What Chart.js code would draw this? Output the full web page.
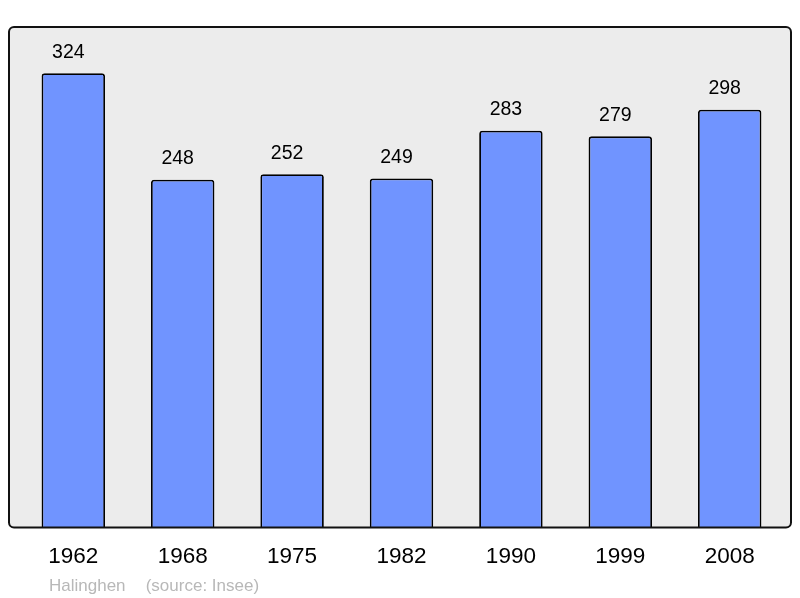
<!DOCTYPE html>
<html>
<head>
<meta charset="utf-8">
<script src="https://cdn.jsdelivr.net/npm/chart.js@4"></script>
<style>
html,body{margin:0;padding:0;background:#fff;}
#wrap{width:800px;height:598px;position:relative;}
</style>
</head>
<body>
<div id="wrap"><canvas id="c" width="800" height="598"></canvas></div>
<script>
const years = ["1962","1968","1975","1982","1990","1999","2008"];
const population = [324,248,252,249,283,279,298];
const placeName = "Halinghen";
const sourceText = "(source: Insee)";

const FONT = "'Liberation Sans', Arial, sans-serif";

const boxPlugin = {
  id: 'box',
  beforeDatasetsDraw(chart) {
    const {ctx, chartArea: a} = chart;
    ctx.save();
    ctx.beginPath();
    ctx.roundRect(a.left - 9.6, a.top, (a.right + 6.6) - (a.left - 9.6), a.bottom - a.top, 5);
    ctx.fillStyle = '#ececec';
    ctx.fill();
    ctx.restore();
  },
  afterDatasetsDraw(chart) {
    const {ctx, chartArea: a} = chart;
    ctx.save();
    // value labels
    const meta = chart.getDatasetMeta(0);
    ctx.font = "19.5px " + FONT;
    ctx.fillStyle = '#000';
    ctx.textAlign = 'center';
    ctx.textBaseline = 'middle';
    meta.data.forEach((bar, i) => {
      ctx.fillText(String(population[i]), bar.x - 5, bar.y - 21);
    });
    // frame
    ctx.beginPath();
    ctx.roundRect(a.left - 9.6, a.top, (a.right + 6.6) - (a.left - 9.6), a.bottom - a.top, 5);
    ctx.lineWidth = 2;
    ctx.strokeStyle = '#111';
    ctx.stroke();
    // source
    ctx.font = "17px " + FONT;
    ctx.fillStyle = '#b8b8b8';
    ctx.textAlign = 'left';
    ctx.textBaseline = 'alphabetic';
    ctx.fillText(placeName, 49, 590.5);
    ctx.fillText(sourceText, 145.7, 590.5);
    ctx.restore();
  }
};

new Chart(document.getElementById('c'), {
  type: 'bar',
  data: {
    labels: years,
    datasets: [{
      data: population,
      backgroundColor: '#7094ff',
      borderColor: '#000',
      borderWidth: 1.8,
      borderRadius: 3,
      borderSkipped: 'bottom',
      categoryPercentage: 1,
      barPercentage: 0.58
    }]
  },
  options: {
    responsive: false,
    animation: false,
    devicePixelRatio: 1,
    layout: { padding: { left: 18.6, right: 15.6, top: 27, bottom: 11.6 } },
    plugins: { legend: { display: false }, tooltip: { enabled: false } },
    scales: {
      y: { display: false, min: 0, max: 357 },
      x: {
        grid: { display: false, drawTicks: false },
        border: { display: false },
        ticks: { color: '#000', font: { family: FONT, size: 22.5 }, padding: 16, maxRotation: 0 }
      }
    }
  },
  plugins: [boxPlugin]
});
</script>
</body>
</html>
